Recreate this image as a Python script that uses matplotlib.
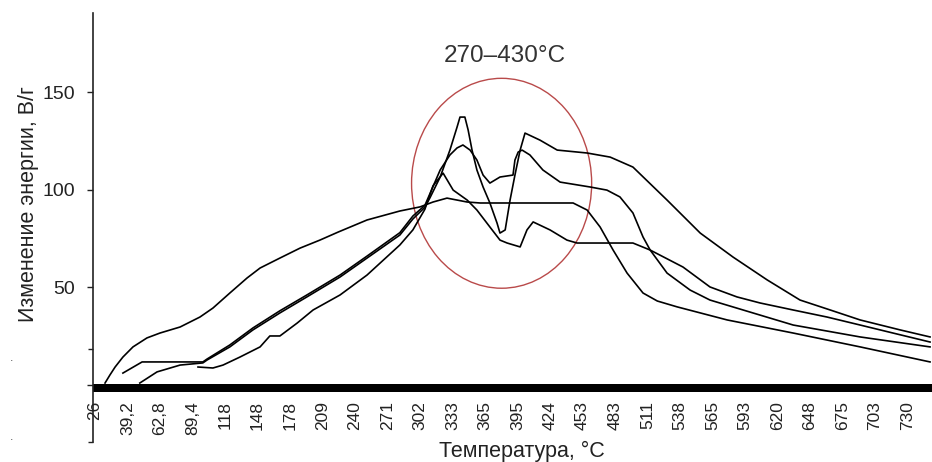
import matplotlib
matplotlib.use('Agg')
import matplotlib.pyplot as plt
from matplotlib.patches import Ellipse

plt.rcParams['font.family'] = ['Liberation Sans', 'DejaVu Sans']

# x tick labels (temperature, °C), equally spaced on the axis
temp_labels = ['26', '39,2', '62,8', '89,4', '118', '148', '178', '209', '240',
               '271', '302', '333', '365', '395', '424', '453', '483', '511',
               '538', '565', '593', '620', '648', '675', '703', '730']

# curves: x = position in label steps, y = energy change, W/g
a_x = [0.31, 0.46, 0.62, 0.86, 1.17, 1.6, 2.0, 2.62, 3.23, 3.63, 4.15, 4.68, 5.08,
       5.69, 6.31, 6.92, 7.48, 8.37, 9.38, 10.0, 10.4, 10.83, 11.14, 11.45, 11.85,
       12.77, 13.69, 14.71, 15.14, 15.54, 15.94, 16.37, 16.86, 17.3, 17.91, 19.45,
       21.48, 23.54, 25.69]
a_y = [1.0, 5.1, 9.2, 14.3, 19.5, 24.1, 26.6, 29.7, 34.8, 39.4, 47.1, 54.8, 59.9,
       65.0, 70.1, 74.2, 78.3, 84.5, 89.1, 91.2, 93.7, 95.7, 94.7, 93.7, 93.2,
       93.2, 93.2, 93.2, 89.6, 80.9, 69.1, 57.3, 47.1, 43.0, 40.0, 33.3,
       26.6, 19.5, 11.8]

b_x = [1.38, 1.91, 2.62, 3.32, 3.45, 4.15, 4.86, 5.69, 6.52, 7.54, 8.37, 9.38, 9.78,
       10.15, 10.31, 10.62, 10.92, 11.14, 11.23, 11.38, 11.48, 11.6, 11.75, 11.94,
       12.15, 12.37, 12.46, 12.62, 12.77, 12.92, 13.08, 13.23, 13.69, 14.22, 15.14,
       15.85, 16.55, 17.6, 18.62, 19.63, 20.68, 21.69, 22.62, 23.54, 24.77, 25.69]
b_y = [1.0, 6.7, 10.2, 11.3, 12.8, 19.5, 28.2, 36.9, 45.1, 55.3, 65.0, 76.8, 85.0,
       91.0, 96.0, 106.5, 120.3, 132.1, 137.2, 137.2, 130.6, 120.3, 110.1, 101.4,
       93.2, 82.9, 77.8, 79.4, 94.7, 107.5, 120.3, 129.0, 125.4, 120.3, 118.8,
       116.7, 111.6, 94.7, 77.8, 65.5, 53.8, 43.5, 38.4, 33.3, 28.2, 24.6]

c_x = [0.86, 1.45, 3.32, 3.45, 4.15, 4.86, 5.69, 6.52, 7.54, 8.37, 9.38, 9.78, 10.15,
       10.62, 10.92, 11.14, 11.32, 11.54, 11.75, 11.94, 12.15, 12.46, 12.86, 12.92,
       13.02, 13.14, 13.38, 13.78, 14.31, 15.23, 15.75, 16.15, 16.55, 16.86, 17.08,
       17.6, 18.31, 18.92, 20.46, 21.48, 23.54, 25.69]
c_y = [6.1, 11.8, 11.8, 13.3, 20.5, 29.2, 38.0, 46.1, 56.3, 66.0, 78.0, 86.5, 92.0,
       110.1, 117.8, 121.4, 122.9, 120.3, 115.2, 107.5, 103.4, 106.5, 107.5, 115.2,
       119.3, 120.3, 117.8, 110.1, 103.9, 101.4, 99.8, 96.3, 88.1, 75.8, 69.1,
       57.3, 48.6, 43.5, 35.8, 30.7, 24.6, 19.5]

d_x = [3.17, 3.63, 3.94, 4.46, 5.08, 5.38, 5.69, 6.22, 6.71, 7.54, 8.37, 9.38, 9.78,
       10.15, 10.4, 10.71, 11.02, 11.45, 11.75, 12.15, 12.46, 12.68, 13.08, 13.29,
       13.48, 14.0, 14.52, 14.83, 16.55, 17.08, 18.09, 18.92, 19.75, 20.46, 21.48,
       22.52, 23.54, 24.55, 25.69]
d_y = [9.2, 8.7, 10.2, 14.3, 19.5, 25.1, 25.1, 31.7, 38.4, 46.1, 56.3, 71.7, 79.4,
       90.0, 102.0, 108.5, 99.8, 94.7, 89.6, 80.9, 74.2, 72.7, 70.7, 79.4,
       83.5, 79.4, 74.2, 72.7, 72.7, 69.1, 60.4, 50.2, 45.1, 42.0, 38.4,
       34.8, 30.7, 26.6, 22.0]

# highlighted zone 270-430 °C (centre, width, height in axis units)
zone_label = '270–430°C'
zone_centre = (12.51, 103.3)
zone_size = (5.54, 107.5)

fig = plt.figure(figsize=(9.32, 4.62), dpi=100)
ax = fig.add_axes([93 / 932, 20 / 462, 839 / 932, 429 / 462])
ax.set_xlim(-0.06, 25.75)
ax.set_ylim(-29.2, 190.5)

for xs, ys in [(a_x, a_y), (b_x, b_y), (c_x, c_y), (d_x, d_y)]:
    ax.plot(xs, ys, color='black', lw=1.2)

# thick base line at zero
ax.axhspan(-3.6, 0.5, color='black', lw=0)

ax.add_patch(Ellipse(zone_centre, zone_size[0], zone_size[1], fill=False,
                     edgecolor='#b94a4a', lw=1.0))
ax.text(12.62, 168.5, zone_label, ha='center', va='center', fontsize=17.5,
        color='#333333')

for side in ['top', 'right']:
    ax.spines[side].set_visible(False)
ax.spines['bottom'].set_position(('data', -3.6))
ax.spines['bottom'].set_color('none')
ax.spines['left'].set_linewidth(1.2)
ax.spines['left'].set_color('#222222')

ax.set_xticks(range(len(temp_labels)))
ax.set_xticklabels(temp_labels, rotation=90, fontsize=12.5, color='#222222')
ax.tick_params(axis='x', length=0, pad=6.5)

ax.set_yticks([0, 50, 100, 150])
ax.set_yticklabels(['', '50', '100', '150'], fontsize=14, color='#222222')
ax.set_yticks([18.4, -29.2], minor=True)
ax.tick_params(axis='y', which='major', length=4.5, width=1, color='#222222', pad=8.5)
ax.tick_params(axis='y', which='minor', length=3.5, width=1, color='#222222')

ax.set_xlabel('Температура, °C', fontsize=15.5, color='#222222')
ax.xaxis.set_label_coords(0.511, 0.002)
ax.set_ylabel('Изменение энергии, В/г', fontsize=15.5, color='#222222')
ax.yaxis.set_label_coords(-0.064, 0.555)

# stray marks at the left edge
fig.text(0.012, 1 - 361 / 462, '.', color='#555555', fontsize=9, ha='center')
fig.text(0.012, 1 - 440 / 462, '.', color='#555555', fontsize=9, ha='center')

fig.savefig('out.png', dpi=100)
